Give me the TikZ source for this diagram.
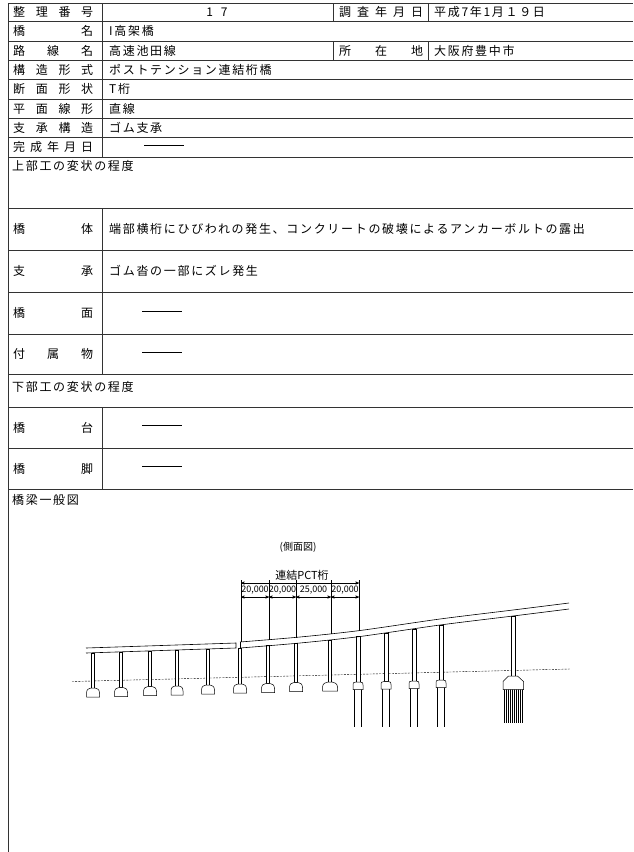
\documentclass[tikz,border=0pt]{standalone}
\usepackage{fontspec}
\setmainfont{Noto Sans CJK JP}
\usetikzlibrary{arrows}
\newcommand{\spreadlbl}[1]{\makebox[80pt]{#1}}
\begin{document}
\begin{tikzpicture}[x=1pt,y=-1pt,>=stealth',
  rule/.style={draw=black!80,line width=0.7pt},
  cell/.style={anchor=west,inner sep=0pt,font=\fontsize{12}{14}\selectfont\addfontfeature{LetterSpace=14}},
  lbl/.style={anchor=west,inner sep=0pt,font=\fontsize{12}{14}\selectfont},
  member/.style={draw,line width=0.5pt,fill=white},
  pilepair/.style={draw,line width=0.6pt,double,double distance=1pt},
  dimtext/.style={inner sep=0pt,font=\fontsize{9}{10}\selectfont}]
\useasboundingbox (0,0) rectangle (633,852);
% table frame
\draw[rule] (8,3) -- (633,3);
\foreach \y in {21.5,41,60,79.5,99,118,137.5,157,208,250,292,334,374,407,448,489}
  \draw[rule] (8,\y) -- (633,\y);
\draw[rule] (8,3) -- (8,852);
\draw[rule] (102,3) -- (102,157) (102,208) -- (102,374) (102,407) -- (102,489);
\draw[rule] (333,3) -- (333,21.5) (428,3) -- (428,21.5);
\draw[rule] (333,41) -- (333,60) (428,41) -- (428,60);
% headings
\node[lbl] (noL)    at (13,12.25)  {\spreadlbl{整\hfill 理\hfill 番\hfill 号}};
\node[lbl] (nameL)  at (13,31.25)  {\spreadlbl{橋\hfill 名}};
\node[lbl] (routeL) at (13,50.5)   {\spreadlbl{路\hfill 線\hfill 名}};
\node[lbl] (typeL)  at (13,69.75)  {\spreadlbl{構\hfill 造\hfill 形\hfill 式}};
\node[lbl] (secL)   at (13,89.25)  {\spreadlbl{断\hfill 面\hfill 形\hfill 状}};
\node[lbl] (planL)  at (13,108.5)  {\spreadlbl{平\hfill 面\hfill 線\hfill 形}};
\node[lbl] (bearL)  at (13,127.75) {\spreadlbl{支\hfill 承\hfill 構\hfill 造}};
\node[lbl] (doneL)  at (13,147.25) {\spreadlbl{完\hfill 成\hfill 年\hfill 月\hfill 日}};
\node[lbl,anchor=center] (noV) at (217,12.25) {1\hspace{8pt}7};
\node[lbl] (dateL)  at (339,12.25) {\makebox[84pt]{調\hfill 査\hfill 年\hfill 月\hfill 日}};
\node[cell] (dateV) at (434,12.25) {平成7年1月１９日};
\node[cell] (nameV) at (109,31.25) {I高架橋};
\node[cell] (routeV) at (109,50.5) {高速池田線};
\node[lbl] (placeL) at (339,50.5)  {\makebox[84pt]{所\hfill 在\hfill 地}};
\node[cell] (placeV) at (434,50.5) {大阪府豊中市};
\node[cell] (typeV) at (109,69.75) {ポストテンション連結桁橋};
\node[cell] (secV)  at (109,89.25) {T桁};
\node[cell] (planV) at (109,108.5) {直線};
\node[cell] (bearV) at (109,127.75) {ゴム支承};
\node[cell] (doneV) at (144,147.25) {\rule[0.35em]{40pt}{0.6pt}};
% upper works
\node[cell] (upper) at (12,166) {上部工の変状の程度};
\node[lbl] (bodyL)  at (13,229)   {\spreadlbl{橋\hfill 体}};
\node[cell] (bodyV) at (109,229)  {端部横桁にひびわれの発生、コンクリートの破壊によるアンカーボルトの露出};
\node[lbl] (shoeL)  at (13,271)   {\spreadlbl{支\hfill 承}};
\node[cell] (shoeV) at (109,271)  {ゴム沓の一部にズレ発生};
\node[lbl] (deckL)  at (13,313)   {\spreadlbl{橋\hfill 面}};
\node[cell] (deckV) at (142,313)  {\rule[0.35em]{40pt}{0.6pt}};
\node[lbl] (attL)   at (13,354)   {\spreadlbl{付\hfill 属\hfill 物}};
\node[cell] (attV)  at (142,354)  {\rule[0.35em]{40pt}{0.6pt}};
% lower works
\node[cell] (lower) at (12,387) {下部工の変状の程度};
\node[lbl] (abutL)  at (13,427.5) {\spreadlbl{橋\hfill 台}};
\node[cell] (abutV) at (142,427.5) {\rule[0.35em]{40pt}{0.6pt}};
\node[lbl] (pierL)  at (13,468.5) {\spreadlbl{橋\hfill 脚}};
\node[cell] (pierV) at (142,468.5) {\rule[0.35em]{40pt}{0.6pt}};
\node[cell] (general) at (12,500) {橋梁一般図};
% side view
\node[dimtext,font=\fontsize{10}{11}\selectfont] (side) at (298,547) {(側面図)};
\node[dimtext,font=\fontsize{11}{12}\selectfont] (pct) at (302,575) {連結PCT桁};
\foreach \n/\x/\d in {0/241/642,1/269/640,2/296/637.5,3/331/634,4/359/630.5} {
  \coordinate (t\n) at (\x,583);
  \coordinate (b\n) at (\x,597);
  \draw[line width=0.35pt] (\x,580) -- (\x,\d);
}
\draw[<->,line width=0.4pt] (t0) -- (t4);
\foreach \a/\b in {0/1,1/2,2/3,3/4}
  \draw[<->,line width=0.4pt] (b\a) -- (b\b);
\node[dimtext] (s1) at (255,590) {20,000};
\node[dimtext] (s2) at (282.5,590) {20,000};
\node[dimtext] (s3) at (313.5,590) {25,000};
\node[dimtext] (s4) at (345,590) {20,000};
% ground
\draw[dash pattern=on 2pt off 1.2pt,line width=0.4pt] (72,681.5) -- (570,669);
% piers on spread footings
\foreach \x/\t/\f/\w in {93/652.8/688/6.5,121/651.8/687.5/6.5,150/650.9/686.5/6.5,177/650/686/6,
  208/648.9/685/6.5,240/648/684/6.5,268/645.7/683.5/6.5,296/643.3/682.5/6.5,330/640/682/7.5} {
  \draw[member] ({\x-1.7},\t) rectangle ({\x+1.7},\f);
  \draw[member] ({\x-\w},{\f+9}) -- ({\x-\w},{\f+5}) .. controls ({\x-\w},{\f+1.5}) and ({\x-4},\f) .. ({\x-2},\f)
    -- ({\x+2},\f) .. controls ({\x+4},\f) and ({\x+\w},{\f+1.5}) .. ({\x+\w},{\f+5}) -- ({\x+\w},{\f+9}) -- cycle;
}
% piers on piles
\foreach \x/\t/\f in {358/636.7/682,386/633/681.5,414/629/681,441/625/680} {
  \draw[member] ({\x-1.8},\t) rectangle ({\x+1.8},\f);
  \draw[pilepair] ({\x-2.8},{\f+7}) -- ({\x-2.8},727) ({\x+2.6},{\f+7}) -- ({\x+2.6},727);
  \draw[member] ({\x-5},{\f+7.5}) -- ({\x-5},{\f+3}) .. controls ({\x-5},{\f+0.5}) .. ({\x-2},\f)
    -- ({\x+2},\f) .. controls ({\x+5},{\f+0.5}) .. ({\x+5},{\f+3}) -- ({\x+5},{\f+7.5}) -- cycle;
}
\draw[member] (511.2,616) rectangle (514.8,676);
\draw[pilepair,double distance=0.9pt] (505.5,689) -- (505.5,723) (509.5,689) -- (509.5,723)
  (513.5,689) -- (513.5,723) (517.5,689) -- (517.5,723) (521.5,689) -- (521.5,723);
\draw[member] (503,689.5) -- (503,681.5) -- (508.5,676) -- (517.5,676) -- (523.5,681.5) -- (523.5,689.5) -- cycle;
% deck
\draw[line width=0.6pt] (86,648) -- (236,643) -- (236,648) -- (86,653);
\draw[line width=0.6pt] plot[smooth] coordinates {(240,642) (300,637) (360,630.5) (440,619) (513,610) (569,603)};
\draw[line width=0.6pt] plot[smooth] coordinates {(240,648) (300,643) (360,636.5) (440,625) (513,616) (569,609)};
\draw[line width=0.6pt] (240,642) -- (240,648);
\end{tikzpicture}
\end{document}
